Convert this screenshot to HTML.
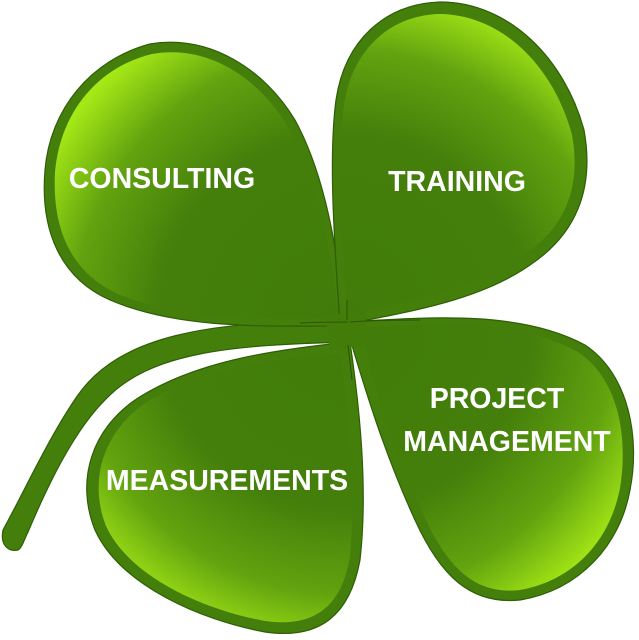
<!DOCTYPE html>
<html><head><meta charset="utf-8"><style>
html,body{margin:0;padding:0;background:#fff;width:639px;height:640px;overflow:hidden}
svg{display:block}
text{font-family:"Liberation Sans",Arial,sans-serif;font-weight:bold;fill:#fff}
</style></head><body>
<svg width="639" height="640" viewBox="0 0 639 640" xmlns="http://www.w3.org/2000/svg">
<defs>
<radialGradient id="g" gradientUnits="userSpaceOnUse" cx="345" cy="322" r="340">
<stop offset="0" stop-color="#417c0a"/>
<stop offset="0.55" stop-color="#447f0b"/>
<stop offset="0.8" stop-color="#62a30f"/>
<stop offset="1" stop-color="#a4e816"/>
</radialGradient>
</defs>
<g stroke="#2f5e06" stroke-width="1.2">
<path d="M330,321 C210,322 120,335 78,395 C50,435 25,490 3,530 C0,545 8,552 18,550 C22,548 24,540 28,532 C50,480 75,430 105,400 C150,352 230,345 350,342 Z" fill="#447f0b"/>
<path d="M345,326 C270,326 180,330 110,300 C60,278 40,230 45,170 C50,110 90,60 150,44 C210,34 265,70 295,120 C325,175 338,250 345,326 Z" fill="#447f0b"/>
<path d="M338,318 C265,320 185,322 118,294 C70,272 52,228 55,172 C60,115 95,68 152,54 C208,44 258,78 287,125 C318,180 332,250 338,318 Z" fill="url(#g)" stroke="none"/>
<path d="M340,325 C335,250 328,160 336,100 C345,40 385,4 440,2 C510,2 565,60 584,130 C595,190 575,235 530,265 C480,300 410,312 340,325 Z" fill="#447f0b"/>
<path d="M348,315 C342,250 336,165 344,105 C352,50 390,15 440,14 C505,15 555,70 572,135 C582,190 563,230 522,256 C475,288 410,303 348,315 Z" fill="url(#g)" stroke="none"/>
<path d="M345,322 C430,317 520,310 585,345 C630,375 640,440 630,490 C620,545 580,590 520,600 C470,605 440,575 415,520 C385,455 365,390 345,322 Z" fill="#447f0b"/>
<path d="M362,328 C435,322 515,318 578,352 C620,380 628,440 620,488 C610,540 575,580 520,590 C475,595 448,568 424,516 C395,455 372,392 362,328 Z" fill="url(#g)" stroke="none"/>
<path d="M350,342 C270,350 195,362 138,398 C92,428 75,480 95,530 C120,585 200,620 265,632 C320,640 350,615 360,560 C368,490 360,410 350,342 Z" fill="#447f0b"/>
<path d="M340,354 C268,358 198,370 144,404 C104,432 88,480 106,526 C130,578 205,610 265,621 C315,628 342,606 350,556 C356,490 350,415 340,354 Z" fill="url(#g)" stroke="none"/>
</g>
<path d="M325,315 L365,312 L370,345 L330,350 Z" fill="#427d0a"/>
<path d="M300,323 C320,322 340,322 348,322 M350,322 C380,320 400,320 420,320 M347,300 L347,320 M348,345 L352,380" stroke="#2a5205" stroke-width="1" fill="none"/>
<text x="162" y="188" font-size="28.5" text-anchor="middle">CONSULTING</text>
<text x="457" y="191" font-size="28.5" text-anchor="middle">TRAINING</text>
<text x="497" y="408" font-size="28.5" text-anchor="middle">PROJECT</text>
<text x="507" y="451" font-size="28.5" text-anchor="middle">MANAGEMENT</text>
<text x="227" y="490" font-size="28.5" text-anchor="middle">MEASUREMENTS</text>
</svg>
</body></html>
